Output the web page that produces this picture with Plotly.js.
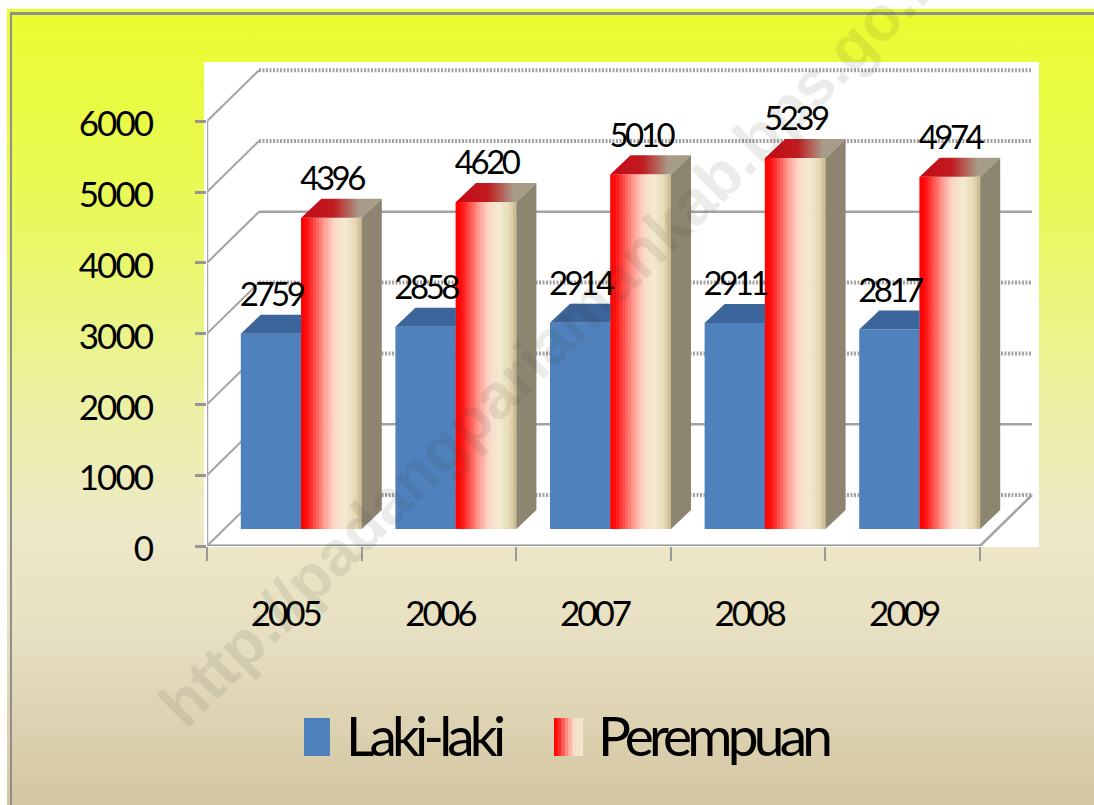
<!DOCTYPE html>
<html>
<head>
<meta charset="utf-8">
<script src="https://cdn.plot.ly/plotly-3.0.1.min.js"></script>
<style>
html,body{margin:0;padding:0;background:#fff;}
#bg{position:absolute;left:7px;top:9px;width:1087px;height:796px;
 background:linear-gradient(to bottom,#e9fc2e 0%,#e9f95a 25%,#ecf0a4 50%,#ede8c8 66%,#e6dec0 80%,#d3c6a2 100%);}
#bg2{position:absolute;left:10px;top:12px;width:1084px;height:793px;box-sizing:border-box;
 border-top:3px solid #8f8f8f;border-left:2px solid #8f8f8f;}
#chart{position:absolute;left:0;top:0;}
.x2tick text{letter-spacing:-3px;}
.ytick text{letter-spacing:-2px;}
.textpoint text{letter-spacing:-3.5px;}
.annotation-text{letter-spacing:-4.8px;}
.annotation-text tspan{letter-spacing:0;}
</style>
</head>
<body>
<div id="bg"></div><div id="bg2"></div>
<div id="chart"></div>
<script>
// ---- data ----
const years = ["2005","2006","2007","2008","2009"];
const lakiLaki = [2759,2858,2914,2911,2817];
const perempuan = [4396,4620,5010,5239,4974];
const yTicks = [0,1000,2000,3000,4000,5000,6000];
const wallSolid = [false,true,false,false,true,false,false];

// ---- styles ----
const FONT = "Lato, 'Open Sans', sans-serif";
const BLUE = "#4f81bd", BLUE_TOP = "#3b659b", SIDE = "#8e8570", GRID = "#a3a3a3";
const redRamp = [[0,"#ff0000"],[0.1,"#ff1010"],[0.38,"#ff9a90"],[0.55,"#fbd8c8"],[0.72,"#f3ead0"],[0.9,"#e6d9b4"],[1,"#c4b58e"]];
const topRamp = [[0,"#c40a14"],[0.4,"#c01c20"],[0.72,"#a89c88"],[1,"#a69c86"]];

// ---- projection constants (in axis units) ----
const PXX = 154.6, PXY = 0.0708;            // px per category, px per unit
const xMax = (1039-207)/PXX, yMax = 484/PXY;
const wallDX = 52/PXX, wallDY = 51/PXY;     // back wall offset
const barDX = 17/PXX, barDY = 17/PXY;       // bar front offset from the axis plane
const sideDX = 20/PXX, sideDY = 19/PXY;     // depth of a bar
const barW = 60.5/PXX;
const labelDY = 17/PXY;

function hexToRgb(h){return [1,3,5].map(i=>parseInt(h.substr(i,2),16));}
function rampColor(t){
  for(let i=1;i<redRamp.length;i++){
    if(t<=redRamp[i][0]){
      const a=redRamp[i-1],b=redRamp[i],k=(t-a[0])/(b[0]-a[0]);
      const ca=hexToRgb(a[1]),cb=hexToRgb(b[1]);
      return "rgb("+ca.map((v,j)=>Math.round(v+(cb[j]-v)*k)).join(",")+")";
    }
  }
  return redRamp[redRamp.length-1][1];
}

const traces = [];
const base = {x:"x",y:"y",mode:"lines",hoverinfo:"skip",showlegend:false,type:"scatter"};

// back wall grid, left wall, floor
yTicks.forEach((v,i)=>{
  traces.push(Object.assign({},base,{x:[wallDX,5+wallDX],y:[v+wallDY,v+wallDY],
    line:{color:GRID,width:wallSolid[i]?2.5:4,dash:wallSolid[i]?"solid":"2px,1.5px"}}));
  traces.push(Object.assign({},base,{x:[0,wallDX],y:[v,v+wallDY],line:{color:GRID,width:2}}));
});
traces.push(Object.assign({},base,{x:[5,5+wallDX],y:[0,wallDY],line:{color:GRID,width:2.5}}));
// axis lines
traces.push(Object.assign({},base,{x:[0,5],y:[0,0],line:{color:"#969696",width:3}}));
traces.push(Object.assign({},base,{x:[0,0],y:[0,6000],line:{color:"#a8a8a8",width:2.5}}));

// bars
const over = {xaxis:"x2",yaxis:"y2",hoverinfo:"skip",showlegend:false};
const blueX = years.map((_,i)=>i+0.5-barW/2+barDX);
const redX  = years.map((_,i)=>i+0.5+barW/2+barDX);
traces.push(Object.assign({},over,{type:"bar",name:"Laki-laki",x:blueX,y:lakiLaki,base:barDY,width:barW,
  marker:{color:BLUE,line:{width:0}}}));
const N = 20, sx=[],sy=[],sc=[],sb=[];
perempuan.forEach((v,i)=>{
  for(let k=0;k<N;k++){
    sx.push(redX[i]-barW/2+(k+0.5)*barW/N);sy.push(v);sb.push(barDY);sc.push(rampColor((k+0.5)/N));
  }
});
traces.push(Object.assign({},over,{type:"bar",name:"Perempuan",x:sx,y:sy,base:sb,width:barW/N*1.2,
  marker:{color:sc,line:{width:0}}}));

// bar faces
lakiLaki.forEach((v,i)=>{
  const l=blueX[i]-barW/2,r=blueX[i]+barW/2,t=v+barDY;
  traces.push(Object.assign({},over,{type:"scatter",mode:"lines",line:{width:0},fill:"toself",fillcolor:BLUE_TOP,
    x:[l,r,r,l+sideDX,l],y:[t,t,t+sideDY,t+sideDY,t]}));
});
perempuan.forEach((v,i)=>{
  const l=redX[i]-barW/2,r=redX[i]+barW/2,t=v+barDY;
  traces.push(Object.assign({},over,{type:"scatter",mode:"lines",line:{width:0},
    fill:"toself",fillcolor:"#a89c88",fillgradient:{type:"horizontal",colorscale:topRamp},
    x:[l,r,r+sideDX,l+sideDX,l],y:[t,t,t+sideDY,t+sideDY,t]}));
  traces.push(Object.assign({},over,{type:"scatter",mode:"lines",line:{width:0},fill:"toself",fillcolor:SIDE,
    x:[r,r+sideDX,r+sideDX,r,r],y:[barDY,barDY+sideDY,t+sideDY,t,barDY]}));
});

// value labels
traces.push(Object.assign({},over,{type:"scatter",mode:"text",
  x:blueX.concat(redX),
  y:lakiLaki.concat(perempuan).map(v=>v+barDY+sideDY+labelDY),
  text:lakiLaki.concat(perempuan).map(String),
  textposition:"middle center",
  textfont:{family:FONT,size:33,color:"#000"}}));

// legend swatches
const shapes = [{type:"rect",xref:"paper",yref:"paper",layer:"below",
  x0:-3/832,x1:1,y0:-1/484,y1:1,fillcolor:"#fff",line:{width:0}}];
const lx = p=>(p-207)/832, ly = p=>(546-p)/484;
shapes.push({type:"rect",xref:"paper",yref:"paper",x0:lx(304),x1:lx(330),y0:ly(756),y1:ly(718),fillcolor:BLUE,line:{width:0}});
const SW=8, SWW=3.6;
for(let k=0;k<SW;k++){
  shapes.push({type:"rect",xref:"paper",yref:"paper",x0:lx(554+k*SWW),x1:lx(554+(k+1)*SWW+0.3),y0:ly(756),y1:ly(718),
    fillcolor:rampColor((k+0.5)/SW*0.8),line:{width:0}});
}

const annotations = [
 {xref:"paper",yref:"paper",x:lx(344),y:ly(735),xanchor:"left",yanchor:"middle",showarrow:false,
  text:"Laki-laki",font:{family:FONT,size:55,color:"#000"}},
 {xref:"paper",yref:"paper",x:lx(596),y:ly(735),xanchor:"left",yanchor:"middle",showarrow:false,
  text:"Perempuan",font:{family:FONT,size:55,color:"#000"}},
 {xref:"paper",yref:"paper",x:lx(557),y:ly(335),xanchor:"center",yanchor:"middle",showarrow:false,
  textangle:-44.5,text:"<b>http://padangpariamankab.bps.go.id</b>",
  font:{family:"'Liberation Sans',Arial,sans-serif",size:63,color:"rgba(60,60,50,0.10)"}}
];

const layout = {
  width:1094,height:805,autosize:false,
  margin:{l:207,r:55,t:62,b:259,pad:0},
  paper_bgcolor:"rgba(0,0,0,0)",plot_bgcolor:"rgba(0,0,0,0)",
  showlegend:false,barmode:"overlay",
  font:{family:FONT,color:"#000"},
  xaxis:{range:[0,xMax],tickmode:"array",tickvals:[0,1,2,3,4,5],ticktext:["","","","","",""],
    ticks:"outside",ticklen:14,tickwidth:2,tickcolor:"#999",showgrid:false,zeroline:false,showline:false},
  xaxis2:{range:[0,xMax],overlaying:"x",anchor:"y",side:"bottom",tickmode:"array",tickvals:[0.5,1.5,2.5,3.5,4.5],ticktext:years,
    ticks:"",ticklabelstandoff:44,ticklabelshift:1,tickfont:{family:FONT,size:35,color:"#000"},showgrid:false,zeroline:false,showline:false},
  yaxis:{range:[0,yMax],tickmode:"array",tickvals:yTicks,ticks:"outside",ticklen:11,tickwidth:3,tickcolor:"#969696",
    ticklabelstandoff:36,ticklabelshift:3,tickfont:{family:FONT,size:35,color:"#000"},showgrid:false,zeroline:false,showline:false},
  yaxis2:{range:[0,yMax],overlaying:"y",anchor:"x",showticklabels:false,ticks:"",showgrid:false,zeroline:false,showline:false},
  shapes:shapes,annotations:annotations
};
Plotly.newPlot("chart",traces,layout,{displayModeBar:false,staticPlot:true});
</script>
</body>
</html>
